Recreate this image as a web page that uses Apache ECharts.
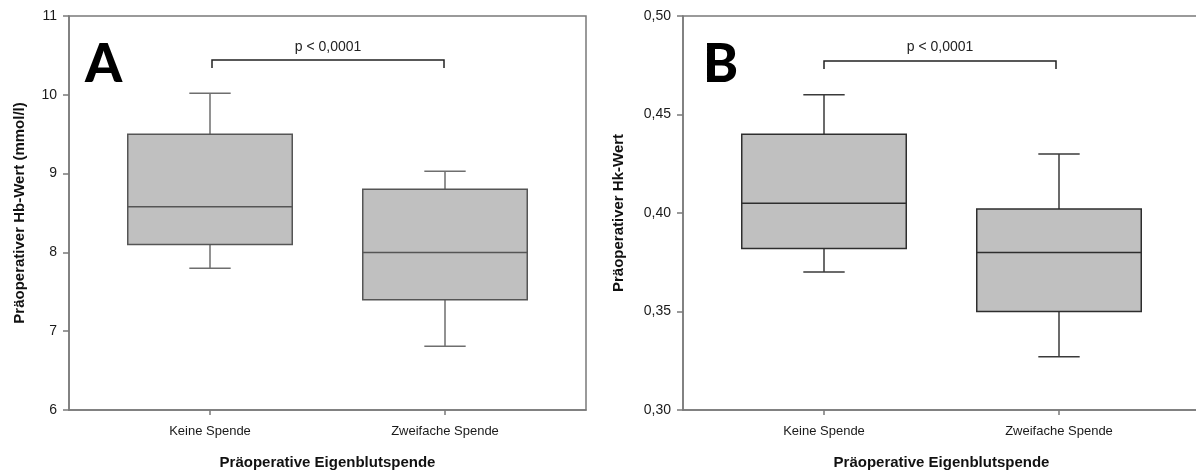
<!DOCTYPE html>
<html>
<head>
<meta charset="utf-8">
<script src="https://cdn.jsdelivr.net/npm/echarts@6/dist/echarts.min.js"></script>
<style>
  html, body { margin: 0; padding: 0; background: #fff; }
  #chart { width: 1196px; height: 472px; }
</style>
</head>
<body>
<div id="chart"></div>
<script>
// Gruppen
var categories = ['Keine Spende', 'Zweifache Spende'];
// [min, Q1, Median, Q3, max]
var hbStats = [
    [7.80, 8.10, 8.58, 9.50, 10.02],
    [6.81, 7.40, 8.00, 8.80, 9.03]
];
var hkStats = [
    [0.370, 0.382, 0.405, 0.440, 0.460],
    [0.327, 0.350, 0.380, 0.402, 0.430]
];
var hbTicks = [6, 7, 8, 9, 10, 11];
var hkTicks = [0.30, 0.35, 0.40, 0.45, 0.50];
var pText = 'p < 0,0001';

var FONT = '"Liberation Sans", Arial, sans-serif';

function toRows(stats) {
    return stats.map(function (s, i) { return [i].concat(s); });
}

// Boxplot mit kurzen Whisker-Enden
function makeRenderer(boxStroke, whiskerStroke) {
    return function (params, api) {
        var idx = api.value(0);
        var band = api.size([1, 0])[0];
        var half = band * 0.35;
        var cap = band * 0.088;
        var pMin = api.coord([idx, api.value(1)]);
        var pQ1 = api.coord([idx, api.value(2)]);
        var pMed = api.coord([idx, api.value(3)]);
        var pQ3 = api.coord([idx, api.value(4)]);
        var pMax = api.coord([idx, api.value(5)]);
        var cx = pMed[0];
        var wStyle = { stroke: whiskerStroke, lineWidth: 1.5 };
        return {
            type: 'group',
            children: [
                { type: 'line', shape: { x1: cx, y1: pQ3[1], x2: cx, y2: pMax[1] }, style: wStyle },
                { type: 'line', shape: { x1: cx - cap, y1: pMax[1], x2: cx + cap, y2: pMax[1] }, style: wStyle },
                { type: 'line', shape: { x1: cx, y1: pQ1[1], x2: cx, y2: pMin[1] }, style: wStyle },
                { type: 'line', shape: { x1: cx - cap, y1: pMin[1], x2: cx + cap, y2: pMin[1] }, style: wStyle },
                { type: 'rect', shape: { x: cx - half, y: pQ3[1], width: half * 2, height: pQ1[1] - pQ3[1] },
                  style: { fill: '#c0c0c0', stroke: boxStroke, lineWidth: 1.5 } },
                { type: 'line', shape: { x1: cx - half, y1: pMed[1], x2: cx + half, y2: pMed[1] },
                  style: { stroke: boxStroke, lineWidth: 1.5 } }
            ]
        };
    };
}

var chart = echarts.init(document.getElementById('chart'));

var frameColor = '#7a7a7a';

function outerY(min, max, interval, name, gap, fmt) {
    return {
        type: 'value', min: min, max: max, interval: interval,
        name: name, nameLocation: 'middle', nameGap: gap,
        nameTextStyle: { fontFamily: FONT, fontWeight: 'bold', fontSize: 15, color: '#111' },
        axisLine: { show: true, lineStyle: { color: frameColor, width: 1.5 } },
        axisTick: { show: true, inside: false, length: 6, lineStyle: { color: frameColor, width: 1.5 } },
        axisLabel: { fontFamily: FONT, fontSize: 14, color: '#1a1a1a', margin: 12, formatter: fmt },
        splitLine: { show: false }
    };
}

function hiddenY(min, max) {
    return {
        type: 'value', min: min, max: max,
        axisLine: { show: false }, axisTick: { show: false },
        axisLabel: { show: false }, splitLine: { show: false }
    };
}

function gridAt(left, width, framed) {
    var g = { left: left, top: 16, width: width, height: 394, outerBoundsMode: 'none', containLabel: false };
    if (framed) {
        g.show = true;
        g.borderColor = frameColor;
        g.borderWidth = 1.5;
    }
    return g;
}

function outerX(idx) {
    return {
        gridIndex: idx, type: 'category', data: categories,
        name: 'Präoperative Eigenblutspende', nameLocation: 'middle', nameGap: 45,
        nameTextStyle: { fontFamily: FONT, fontWeight: 'bold', fontSize: 15, color: '#111' },
        axisLine: { lineStyle: { color: frameColor, width: 1.5 } },
        axisTick: { show: false }, axisLabel: { show: false }
    };
}

function innerX(idx) {
    return {
        gridIndex: idx, type: 'category', data: categories,
        axisLine: { show: false },
        axisTick: { show: true, alignWithLabel: true, length: 5, lineStyle: { color: frameColor, width: 1.5 } },
        axisLabel: { fontFamily: FONT, fontSize: 13, color: '#1a1a1a', margin: 15 }
    };
}

option = {
    animation: false,
    backgroundColor: '#fff',
    grid: [
        gridAt(69, 517, true),
        gridAt(92.5, 470, false),
        gridAt(683, 517, true),
        gridAt(706.5, 470, false)
    ],
    xAxis: [outerX(0), innerX(1), outerX(2), innerX(3)],
    yAxis: [
        Object.assign(outerY(hbTicks[0], hbTicks[hbTicks.length - 1], 1,
            'Präoperativer Hb-Wert (mmol/l)', 42, function (v) { return String(v); }), { gridIndex: 0 }),
        Object.assign(hiddenY(hbTicks[0], hbTicks[hbTicks.length - 1]), { gridIndex: 1 }),
        Object.assign(outerY(hkTicks[0], hkTicks[hkTicks.length - 1], 0.05,
            'Präoperativer Hk-Wert', 57, function (v) { return v.toFixed(2).replace('.', ','); }), { gridIndex: 2 }),
        Object.assign(hiddenY(hkTicks[0], hkTicks[hkTicks.length - 1]), { gridIndex: 3 })
    ],
    series: [
        {
            type: 'custom', xAxisIndex: 1, yAxisIndex: 1,
            renderItem: makeRenderer('#555', '#6e6e6e'),
            encode: { x: 0, y: [1, 2, 3, 4, 5] },
            data: toRows(hbStats)
        },
        {
            type: 'custom', xAxisIndex: 3, yAxisIndex: 3,
            renderItem: makeRenderer('#2e2e2e', '#3a3a3a'),
            encode: { x: 0, y: [1, 2, 3, 4, 5] },
            data: toRows(hkStats)
        }
    ],
    graphic: [
        { type: 'text', left: 85, top: 38, style: { text: 'A', font: '900 53px Lato, "Open Sans", sans-serif', fill: '#000' } },
        { type: 'text', left: 703, top: 38, style: { text: 'B', font: '900 53px Lato, "Open Sans", sans-serif', fill: '#000' } },
        { type: 'polyline', shape: { points: [[212, 68], [212, 60], [444, 60], [444, 68]] },
          style: { stroke: '#222', lineWidth: 1.5, fill: null } },
        { type: 'polyline', shape: { points: [[824, 69], [824, 61], [1056, 61], [1056, 69]] },
          style: { stroke: '#222', lineWidth: 1.5, fill: null } },
        { type: 'text', x: 328, y: 47, style: { text: pText, font: '14px "Liberation Sans", Arial, sans-serif', fill: '#222', align: 'center', verticalAlign: 'middle' } },
        { type: 'text', x: 940, y: 47, style: { text: pText, font: '14px "Liberation Sans", Arial, sans-serif', fill: '#222', align: 'center', verticalAlign: 'middle' } }
    ]
};

chart.setOption(option);
</script>
</body>
</html>
